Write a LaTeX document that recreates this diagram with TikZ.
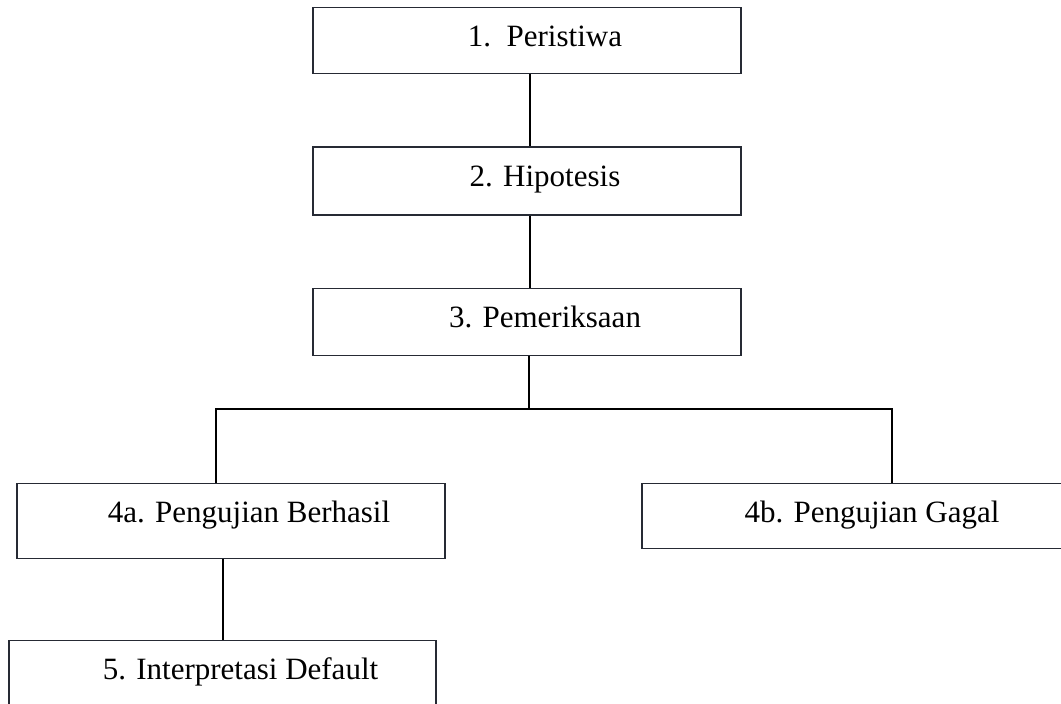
\documentclass[tikz,border=0pt]{standalone}
\usepackage{fontspec}
\setmainfont{Liberation Serif}
\usetikzlibrary{positioning}
\definecolor{boxline}{RGB}{38,42,52}

\begin{document}
\begin{tikzpicture}[x=0.5pt,y=-0.5pt,node distance=36pt,
  box/.style={draw=boxline, line width=0.75pt, minimum width=214pt, inner ysep=0pt,
    text height=19.5pt, font=\fontsize{15.5}{18}\selectfont,
    execute at begin node=\hspace*{18pt}},
  link/.style={draw=black, line width=1pt}]
\useasboundingbox (0,0) rectangle (1061,704);

% define the boxes
  \node[box, text depth=13.5pt, anchor=north] (peristiwa) at (527,7) {1.\ \ Peristiwa};
  \node[box, text depth=14.5pt] (hipotesis) [below=of peristiwa] {2. Hipotesis};
  \node[box, text depth=14pt] (pemeriksaan) [below=of hipotesis] {3. Pemeriksaan};
  \node[box, text depth=18pt, anchor=north] (berhasil) at (231,483) {4a. Pengujian Berhasil};
  \node[box, text depth=13pt, minimum width=212pt, anchor=north] (gagal) at (854,483) {4b. Pengujian Gagal};
  \node[box, text depth=18.5pt, minimum width=213.5pt, anchor=north] (default) at (222.5,640) {5. Interpretasi Default};

% define the links
  \coordinate (split) at (529,409);
  \draw[link] ([xshift=1.5pt]peristiwa.south) -- ([xshift=1.5pt]hipotesis.north);
  \draw[link] ([xshift=1.5pt]hipotesis.south) -- ([xshift=1.5pt]pemeriksaan.north);
  \draw[link] (pemeriksaan.south -| split) -- (split);
  \draw[link] ([xshift=-7.5pt]berhasil.north) |- (split) -| ([xshift=19pt]gagal.north);
  \draw[link] (default.north |- berhasil.south) -- (default.north);

\end{tikzpicture}
\end{document}
